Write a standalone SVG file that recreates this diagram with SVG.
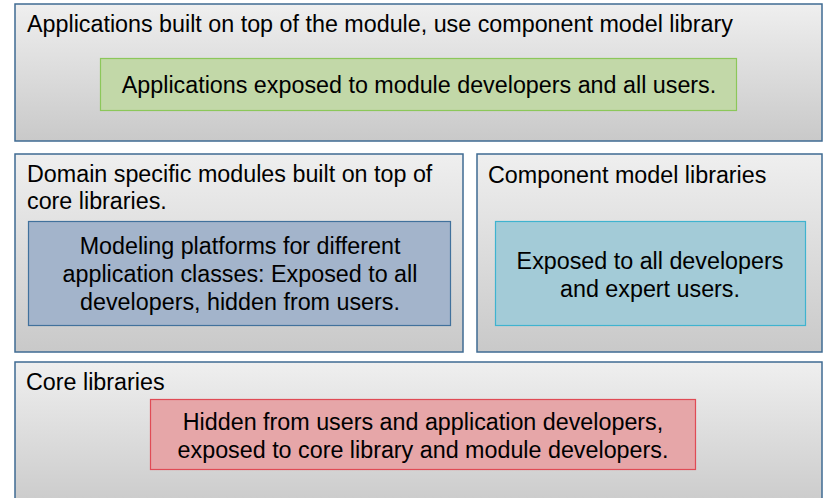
<svg xmlns="http://www.w3.org/2000/svg" width="827" height="498" viewBox="0 0 827 498">
  <defs>
    <linearGradient id="layerFill" x1="0" y1="0" x2="0" y2="1">
      <stop offset="0" stop-color="#efefef"/>
      <stop offset="1" stop-color="#c9c9c9"/>
    </linearGradient>
  </defs>
  <style>
    .layer { fill: url(#layerFill); stroke: #3f6b93; stroke-width: 1.5; }
    .t { font-family: "Liberation Sans", Arial, sans-serif; font-size: 23.3px; fill: #000; }
    .c { text-anchor: middle; }
    .green { fill: #c2d8a8; stroke: #8cc75a; stroke-width: 1.2; }
    .blue { fill: #a3b4cb; stroke: #41719c; stroke-width: 1.2; }
    .cyan { fill: #a3cbd7; stroke: #3fb3cf; stroke-width: 1.2; }
    .red { fill: #e6a6a8; stroke: #e04b55; stroke-width: 1.2; }
  </style>
  <rect width="827" height="498" fill="#ffffff"/>

  <!-- Applications layer -->
  <g id="applications">
    <rect class="layer" x="15" y="4" width="807" height="137"/>
    <text class="t" x="27" y="32">Applications built on top of the module, use component model library</text>
    <rect class="green" x="100.5" y="58.5" width="636" height="52"/>
    <text class="t c" x="419" y="93">Applications exposed to module developers and all users.</text>
  </g>

  <!-- Domain specific modules -->
  <g id="domain-modules">
    <rect class="layer" x="15" y="154" width="448" height="198"/>
    <text class="t" x="27" y="182">Domain specific modules built on top of</text>
    <text class="t" x="27" y="209">core libraries.</text>
    <rect class="blue" x="28.5" y="221.5" width="422" height="104"/>
    <text class="t c" x="240" y="254">Modeling platforms for different</text>
    <text class="t c" x="240" y="282">application classes: Exposed to all</text>
    <text class="t c" x="240" y="310">developers, hidden from users.</text>
  </g>

  <!-- Component model libraries -->
  <g id="component-libraries">
    <rect class="layer" x="477" y="154" width="345" height="198"/>
    <text class="t" x="488" y="183">Component model libraries</text>
    <rect class="cyan" x="495.5" y="221.5" width="310" height="104"/>
    <text class="t c" x="650" y="269">Exposed to all developers</text>
    <text class="t c" x="650" y="297">and expert users.</text>
  </g>

  <!-- Core libraries -->
  <g id="core-libraries">
    <rect class="layer" x="15" y="362" width="807" height="150"/>
    <text class="t" x="26" y="390">Core libraries</text>
    <rect class="red" x="150.5" y="399.5" width="545" height="70"/>
    <text class="t c" x="423" y="430">Hidden from users and application developers,</text>
    <text class="t c" x="423" y="458">exposed to core library and module developers.</text>
  </g>
</svg>
